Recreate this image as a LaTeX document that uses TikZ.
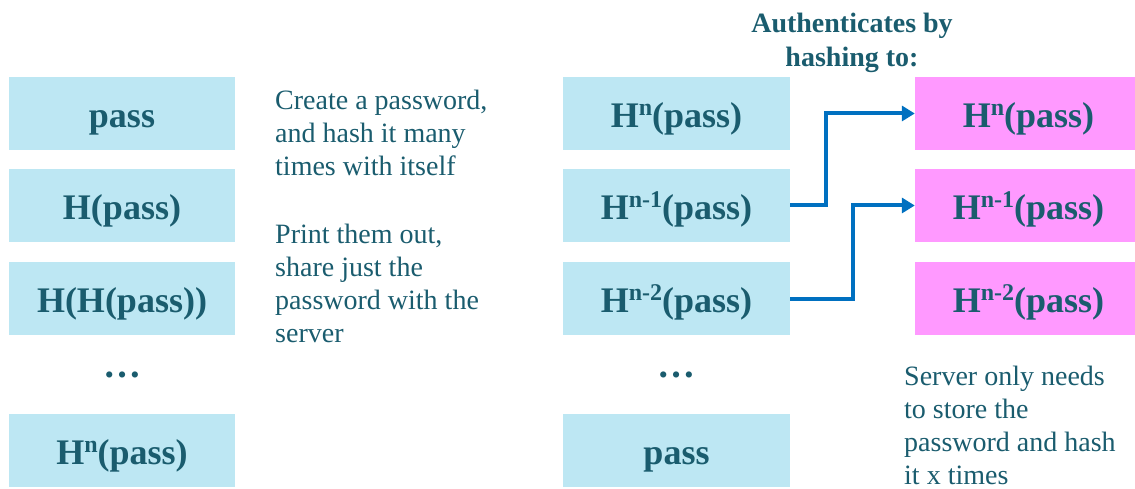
\documentclass[tikz,border=0pt]{standalone}
\usepackage{fontspec}
\setmainfont{Liberation Serif}
\usetikzlibrary{arrows.meta}
\definecolor{tealtext}{HTML}{1A5C6E}
\definecolor{boxblue}{HTML}{BDE7F3}
\definecolor{boxpink}{HTML}{FF99FF}
\definecolor{arrowblue}{HTML}{0070C0}
\newcommand{\hsup}[1]{\raisebox{12pt}{\fontsize{24}{24}\selectfont #1}}
\begin{document}
\begin{tikzpicture}[x=1pt,y=1pt,
 hbox/.style={fill=boxblue, minimum width=226pt, minimum height=73pt, inner sep=0, text height=28pt, text depth=0pt, text=tealtext, font=\fontsize{36}{40}\selectfont\bfseries},
 rbox/.style={hbox, minimum width=227pt},
 pbox/.style={hbox, fill=boxpink, minimum width=227pt},
 dots/.style={inner sep=0, text=tealtext, font=\fontsize{38}{40}\selectfont\bfseries},
 body/.style={text=tealtext, font=\fontsize{28}{33}\selectfont, align=left, anchor=north west, inner sep=0},
 title/.style={text=tealtext, font=\fontsize{28}{34}\selectfont\bfseries, align=center, anchor=north, inner sep=0},
 link/.style={draw=arrowblue, line width=4pt, -{Triangle[length=13pt,width=15pt]}}]
\useasboundingbox (0,0) rectangle (1135,488);
% left column
\node[hbox] (L1) at (122,374.5) {pass};
\node[hbox] (L2) at (122,282.5) {H(pass)};
\node[hbox] (L3) at (122,189.5) {H(H(pass))};
\node[dots] (Ld) at (122,113) {…};
\node[hbox] (L4) at (122,37.5) {H\hsup{n}(pass)};
% explanation
\node[body] (t1) at (275,398) {Create a password,\\and hash it many\\times with itself};
\node[body] (t2) at (275,264) {Print them out,\\share just the\\password with the\\server};
% right blue column
\node[rbox] (R1) at (676.5,374.5) {H\hsup{n}(pass)};
\node[rbox] (R2) at (676.5,282.5) {H\hsup{n-1}(pass)};
\node[rbox] (R3) at (676.5,189.5) {H\hsup{n-2}(pass)};
\node[dots] (Rd) at (676.5,113) {…};
\node[rbox] (R4) at (676.5,37.5) {pass};
% pink column
\node[pbox] (P1) at (1028.5,374.5) {H\hsup{n}(pass)};
\node[pbox] (P2) at (1028.5,282.5) {H\hsup{n-1}(pass)};
\node[pbox] (P3) at (1028.5,189.5) {H\hsup{n-2}(pass)};
% title
\node[title] (T) at (852,475) {Authenticates by\\hashing to:};
% server note
\node[body] (S) at (904,122) {Server only needs\\to store the\\password and hash\\it x times};
% arrows
\draw[link] (R2.east) -- ++(36,0) |- (P1.west);
\draw[link] (R3.east) -- ++(63,0) |- (P2.west);
\end{tikzpicture}
\end{document}
